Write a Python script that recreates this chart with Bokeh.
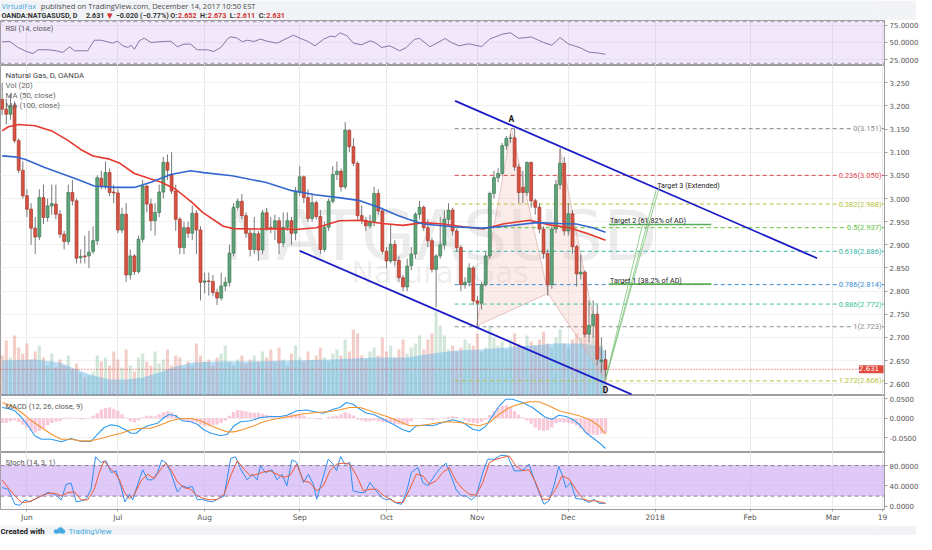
from bokeh.plotting import figure
from bokeh.layouts import column
from bokeh.models import (ColumnDataSource, Range1d, FixedTicker, PrintfTickFormatter,
                          Label, Span, BoxAnnotation, Grid)
from bokeh.embed import file_html
from bokeh.resources import INLINE

# ---------------- data ----------------
bar_index = list(range(147))   # daily bars, 24 May 2017 .. 14 Dec 2017

opens = [3.214,3.193,3.182,3.202,3.125,3.061,3.006,2.977,2.936,2.917,
         3.002,2.959,2.984,2.988,2.966,2.923,2.907,3.013,2.995,2.872,
         2.876,2.876,2.886,2.909,3.044,3.027,3.056,3.014,3.012,2.932,
         2.966,2.835,2.876,2.842,2.912,3.027,2.988,2.952,2.970,3.014,
         3.078,3.051,3.016,2.955,2.894,2.937,2.925,2.968,2.932,2.819,
         2.822,2.821,2.797,2.785,2.811,2.819,2.882,2.981,2.994,2.963,
         2.925,2.890,2.924,2.889,2.969,2.937,2.936,2.952,2.904,2.938,
         2.952,2.925,3.013,3.047,3.002,2.957,2.991,2.961,2.890,2.938,
         2.994,3.052,3.059,3.025,3.147,3.112,3.076,2.963,2.953,2.941,
         2.950,3.011,2.973,2.886,2.865,2.901,2.866,2.829,2.809,2.855,
         2.880,2.966,2.981,2.937,2.909,2.847,2.876,2.900,2.955,2.975,
         2.930,2.894,2.814,2.819,2.850,2.779,2.774,2.814,2.876,3.011,
         3.045,3.054,3.114,3.130,3.131,3.068,3.024,3.013,3.078,2.995,
         2.981,2.934,2.881,2.814,2.934,3.030,3.076,2.930,2.967,2.896,
         2.837,2.841,2.707,2.726,2.750,2.648,2.652]
closes = [3.193,3.182,3.200,3.125,3.061,3.006,2.977,2.936,2.917,3.002,
          2.959,2.984,2.989,2.966,2.923,2.907,3.013,2.995,2.871,2.875,
          2.874,2.884,2.909,3.045,3.027,3.056,3.013,3.012,2.932,2.966,
          2.835,2.876,2.842,2.912,3.027,2.988,2.952,2.970,3.014,3.078,
          3.061,3.016,2.955,2.894,2.937,2.925,2.968,2.932,2.819,2.822,
          2.821,2.797,2.785,2.811,2.819,2.882,2.981,2.994,2.963,2.925,
          2.890,2.924,2.889,2.969,2.937,2.936,2.952,2.904,2.938,2.952,
          2.925,3.013,3.047,3.002,2.957,2.991,2.961,2.890,2.938,2.994,
          3.052,3.059,3.025,3.148,3.112,3.076,2.963,2.953,2.941,2.950,
          3.011,2.973,2.886,2.865,2.901,2.866,2.829,2.809,2.854,2.880,
          2.966,2.981,2.937,2.909,2.847,2.876,2.900,2.955,2.975,2.930,
          2.894,2.814,2.819,2.850,2.779,2.774,2.814,2.876,3.011,3.045,
          3.054,3.114,3.130,3.131,3.068,3.013,3.013,3.078,2.995,2.981,
          2.934,2.881,2.814,2.934,3.030,3.076,2.930,2.967,2.896,2.837,
          2.841,2.707,2.726,2.750,2.653,2.651,2.631]
highs = [3.250,3.215,3.225,3.210,3.130,3.080,3.020,2.990,2.960,3.020,
         3.030,3.000,3.030,3.030,2.975,2.930,3.030,3.040,3.000,2.890,
         2.920,2.930,2.940,3.050,3.060,3.080,3.065,3.030,3.020,2.980,
         2.990,2.890,2.880,2.920,3.040,3.030,3.000,2.990,3.030,3.090,
         3.095,3.100,3.030,2.960,2.950,2.950,2.985,2.975,2.940,2.840,
         2.840,2.835,2.805,2.840,2.830,2.900,2.990,3.000,3.010,2.970,
         2.935,2.960,2.930,2.975,2.980,2.960,2.965,2.960,2.970,2.970,
         2.960,3.025,3.070,3.050,3.020,3.010,2.995,2.975,2.950,3.000,
         3.070,3.080,3.065,3.165,3.150,3.130,3.080,2.985,2.960,2.965,
         3.025,3.020,2.980,2.895,2.945,2.910,2.875,2.835,2.870,2.895,
         2.970,2.995,2.985,2.955,2.915,2.880,2.960,2.975,2.990,2.980,
         2.935,2.900,2.830,2.860,2.855,2.790,2.820,2.885,3.015,3.060,
         3.065,3.120,3.135,3.140,3.151,3.075,3.060,3.080,3.080,3.000,
         2.990,2.940,2.890,2.940,3.040,3.110,3.090,2.990,2.975,2.900,
         2.880,2.845,2.780,2.780,2.770,2.700,2.673]
lows = [3.180,3.160,3.170,3.120,3.055,3.000,2.960,2.900,2.880,2.910,
        2.945,2.950,2.965,2.955,2.915,2.890,2.900,2.985,2.860,2.860,
        2.860,2.850,2.880,2.900,3.020,3.020,3.005,2.990,2.925,2.925,
        2.820,2.825,2.835,2.838,2.905,2.970,2.930,2.920,2.960,3.000,
        3.040,3.010,2.930,2.880,2.880,2.915,2.910,2.880,2.780,2.795,
        2.790,2.790,2.770,2.780,2.800,2.810,2.875,2.975,2.955,2.915,
        2.875,2.880,2.865,2.880,2.930,2.925,2.910,2.880,2.895,2.930,
        2.900,2.910,3.005,2.990,2.950,2.950,2.955,2.880,2.885,2.930,
        2.990,3.040,3.015,3.020,3.100,3.070,2.955,2.945,2.930,2.935,
        2.940,2.965,2.880,2.850,2.860,2.855,2.820,2.800,2.800,2.845,
        2.870,2.955,2.930,2.895,2.840,2.765,2.870,2.890,2.945,2.920,
        2.885,2.800,2.805,2.810,2.770,2.723,2.760,2.810,2.870,3.000,
        3.035,3.050,3.105,3.120,3.060,2.990,2.990,3.005,2.980,2.965,
        2.925,2.870,2.790,2.805,2.925,3.020,2.920,2.920,2.880,2.810,
        2.825,2.700,2.690,2.700,2.640,2.625,2.611]
volume = [40,55,38,60,48,42,52,36,44,50,
          38,30,42,28,36,30,40,26,32,22,
          18,20,24,40,34,38,30,44,36,28,
          46,30,24,38,42,34,30,44,32,36,
          46,30,40,38,28,34,30,52,40,34,
          36,30,38,42,50,34,30,36,40,32,
          36,40,34,44,38,46,34,48,36,30,
          42,50,38,34,44,36,40,48,38,34,
          42,46,40,56,44,66,62,40,36,44,
          48,40,58,44,50,38,46,56,42,48,
          52,60,46,56,62,84,70,60,46,50,
          44,48,56,52,50,62,44,48,70,58,
          50,54,46,56,62,52,48,60,54,50,
          56,64,52,48,58,66,52,48,56,62,
          58,62,54,60,56,50,30]

# quote line of the header
quote_change = -0.020
quote_change_pct = -0.77

volma_x = [0, 8, 14, 18, 22, 26, 30, 34, 38, 42, 46, 52, 60, 70, 80, 90, 98, 104, 110, 116, 122, 128, 134, 140, 144, 146]
volma_y = [35, 36, 33, 26, 20, 16, 16, 18, 23, 29, 33, 34, 34, 35, 36, 38, 38, 42, 45, 46, 48, 50, 52, 52, 50, 44]

ma50_x = [0, 1.5, 4, 8, 12, 16, 19, 22, 26, 28.5, 32, 36, 38.5, 42, 46, 48.5, 53.5, 56, 62.5, 67, 71, 76,
          81.6, 86.4, 92, 97, 101.9, 106.7, 111.6, 116.4, 121.2, 127.6, 132.5, 137.3, 142.1, 146]
ma50_y = [3.146, 3.155, 3.160, 3.157, 3.146, 3.125, 3.106, 3.092, 3.085, 3.076, 3.054, 3.042, 3.035, 3.020,
          2.991, 2.970, 2.940, 2.935, 2.934, 2.935, 2.933, 2.937, 2.952, 2.953, 2.946, 2.942, 2.948, 2.945,
          2.939, 2.934, 2.945, 2.953, 2.943, 2.937, 2.923, 2.910]
ma100_x = [0, 3, 5.5, 10.3, 14.3, 17.5, 22.3, 27.2, 32, 36, 40.8, 45.6, 48.8, 55.6, 63.7, 70.1, 75.7, 81.4,
           86.2, 91.1, 95.9, 98.3, 101.9, 109.1, 116.4, 122.8, 129.2, 134.8, 138.9, 142.9, 146]
ma100_y = [3.092, 3.090, 3.085, 3.067, 3.054, 3.044, 3.027, 3.024, 3.024, 3.035, 3.052, 3.060, 3.056, 3.049,
           3.035, 3.017, 3.008, 3.002, 2.996, 2.981, 2.963, 2.955, 2.945, 2.939, 2.936, 2.941, 2.948, 2.946,
           2.945, 2.937, 2.927]

rsi_x = [0, 1.85, 3.86, 5.87, 7.5, 8.7, 11.1, 13.1, 14.7, 16.3, 17.5, 20.7, 22.3, 23.9, 25.5, 26.7, 27.9,
         29.2, 30.4, 31.2, 32.0, 33.2, 34.4, 36.0, 38.0, 40.8, 42.4, 44.0, 45.6, 47.2, 49.6, 51.2, 52.9,
         54.5, 55.3, 56.9, 58.1, 59.3, 60.9, 62.5, 64.1, 66.5, 68.5, 70.5, 72.1, 73.7, 75.7, 77.8, 79.4,
         80.6, 81.8, 83.4, 85.0, 87.0, 89.0, 90.2, 91.8, 93.8, 96.2, 97.8, 99.8, 101.0, 103.5, 105.5, 107.1,
         108.7, 110.5, 113, 116, 118, 121, 123, 125, 128, 131, 133, 135, 137, 140, 142, 144, 146]
rsi_y = [51.0, 51.4, 42.8, 37.0, 34.1, 39.5, 39.5, 38.0, 35.6, 43.8, 38.0, 38.0, 53.3, 53.3, 51.0, 49.0,
         51.9, 45.2, 42.8, 46.1, 40.3, 52.4, 56.2, 50.0, 51.0, 51.9, 43.8, 47.6, 47.6, 39.5, 39.5, 37.0,
         42.8, 54.8, 58.2, 56.2, 51.0, 53.3, 51.4, 54.8, 51.9, 49.0, 54.8, 60.6, 55.8, 52.4, 45.2, 54.8,
         59.1, 58.2, 64.0, 59.7, 49.0, 46.6, 52.4, 50.0, 42.8, 45.2, 38.0, 42.8, 54.8, 55.8, 43.8, 50.0,
         55.8, 50.0, 45.2, 48.0, 44.0, 55.0, 62.0, 64.0, 56.0, 58.0, 50.0, 46.0, 57.0, 48.0, 42.0, 36.0,
         35.0, 33.0]

macd_x = [0, 1.4, 3.1, 4.7, 6.3, 7.9, 9.5, 11.9, 14.3, 16.7, 19.1, 21.5, 23.1, 24.7, 26.3, 27.9, 29.6,
          31.2, 32.4, 33.6, 35.2, 37.6, 39.2, 40.4, 42.0, 43.6, 45.6, 47.2, 48.8, 50.5, 52.9, 54.5, 56.1,
          57.7, 60.1, 62.5, 64.9, 67.3, 68.9, 71.3, 73.7, 75.3, 77.7, 80.1, 81.7, 83.3, 84.9, 86.6, 88.2,
          89.8, 92.2, 94.6, 97.0, 98.6, 100.2, 101.8, 104.2, 106.6, 109.0, 111.5, 113.9, 115.5, 117.1,
          118.7, 120.3, 121.9, 123.5, 125.9, 128.3, 129.9, 131.5, 133.1, 134.7, 136.4, 138.0, 139.6,
          141.2, 142.8, 144.4, 146.0]
macd_y = [0.0274, 0.0249, 0.0190, 0.0018, -0.0195, -0.0451, -0.0538, -0.0538, -0.0605, -0.0521,
          -0.0597, -0.0597, -0.0410, -0.0238, -0.0170, -0.0195, -0.0282, -0.0385, -0.0385, -0.0282,
          -0.0195, -0.0128, 0.0018, 0.0095, 0.0062, -0.0067, -0.0092, -0.0154, -0.0297, -0.0385,
          -0.0451, -0.0410, -0.0195, -0.0092, -0.0067, 0.0018, 0.0044, 0.0044, 0.0077, 0.0190,
          0.0210, 0.0170, 0.0128, 0.0231, 0.0274, 0.0403, 0.0359, 0.0231, 0.0128, 0.0103,
          -0.0026, -0.0154, -0.0297, -0.0350, -0.0195, -0.0179, -0.0195, -0.0110, -0.0041, -0.0110,
          -0.0282, -0.0323, -0.0195, 0.0062, 0.0318, 0.0487, 0.0487, 0.0403, 0.0274, 0.0146,
          0.0018, -0.0026, 0.0077, 0.0044, -0.0026, -0.0154, -0.0367, -0.0495, -0.0623, -0.0777]
signal_x = [0, 2.3, 4.7, 7.1, 9.5, 11.9, 14.3, 16.7, 19.1, 21.5, 23.9, 26.3, 28.8, 31.2, 33.6, 36.0, 38.4,
            40.8, 43.2, 45.6, 48.0, 50.5, 52.9, 54.5, 56.1, 58.5, 60.9, 63.3, 65.7, 68.1, 70.5, 72.9, 76.1,
            79.3, 81.7, 84.1, 86.6, 89.0, 91.4, 93.8, 96.2, 98.6, 101.0, 103.4, 105.8, 108.2, 110.6, 113.1,
            115.5, 117.9, 120.3, 122.7, 125.1, 127.5, 129.9, 132.3, 134.7, 137.2, 139.6, 142.0, 144.4, 146.0]
signal_y = [0.0403, 0.0318, 0.0146, -0.0067, -0.0238, -0.0410, -0.0538, -0.0538, -0.0580, -0.0580,
            -0.0521, -0.0451, -0.0385, -0.0297, -0.0256, -0.0256, -0.0170, -0.0067, -0.0008, -0.0008,
            -0.0067, -0.0195, -0.0297, -0.0350, -0.0350, -0.0282, -0.0195, -0.0092, -0.0026, 0.0018,
            0.0062, 0.0115, 0.0146, 0.0172, 0.0215, 0.0274, 0.0274, 0.0190, 0.0103, 0.0018,
            -0.0092, -0.0195, -0.0195, -0.0154, -0.0110, -0.0092, -0.0110, -0.0154, -0.0195, -0.0110,
            0.0103, 0.0274, 0.0359, 0.0420, 0.0420, 0.0318, 0.0190, 0.0128, 0.0062, -0.0026,
            -0.0195, -0.0410]
macd_hist = [-0.012,-0.012,-0.008,-0.005,-0.010,-0.017,-0.024,-0.032,-0.037,-0.033,
             -0.026,-0.018,-0.012,-0.009,-0.007,-0.002,0.002,0.001,-0.002,-0.003,
             -0.002,0.001,0.006,0.013,0.022,0.026,0.028,0.024,0.019,0.010,
             0.002,-0.008,-0.011,-0.005,0.002,0.006,0.006,0.005,0.010,0.015,
             0.018,0.015,0.009,0.001,-0.006,-0.008,-0.009,-0.011,-0.017,-0.020,
             -0.019,-0.018,-0.016,-0.012,-0.006,0.006,0.016,0.021,0.020,0.017,
             0.015,0.014,0.014,0.011,0.008,0.006,0.004,0.003,0.005,0.007,
             0.010,0.011,0.009,0.007,0.002,-0.001,-0.002,-0.003,0.000,0.004,
             0.005,0.006,0.010,0.015,0.012,0.007,-0.003,-0.006,-0.009,-0.008,
             -0.006,-0.008,-0.010,-0.011,-0.013,-0.015,-0.016,-0.017,-0.016,-0.008,
             -0.001,0.000,-0.002,-0.004,-0.005,-0.003,-0.001,0.002,0.004,0.005,
             0.003,0.000,-0.006,-0.010,-0.012,-0.013,-0.009,-0.004,0.008,0.018,
             0.026,0.032,0.034,0.028,0.018,0.008,0.002,-0.006,-0.014,-0.024,
             -0.030,-0.033,-0.031,-0.024,-0.013,-0.010,-0.011,-0.012,-0.014,-0.019,
             -0.026,-0.036,-0.041,-0.042,-0.043,-0.040,-0.037]

stoch_k_x = [0, 1.4, 3.1, 4.3, 5.5, 6.7, 7.9, 9.5, 11.1, 12.7, 14.3, 15.5, 16.7, 17.9, 19.1, 20.3, 21.5,
             22.6, 23.9, 25.1, 26.4, 27.6, 28.8, 29.7, 30.8, 31.6, 32.8, 34.0, 35.2, 36.4, 37.6, 38.6, 39.6,
             40.8, 42.4, 43.6, 44.8, 46.0, 47.2, 48.4, 49.6, 50.9, 52.1, 53.7, 55.3, 56.5, 57.7, 59.3, 60.5,
             61.7, 62.5, 63.7, 65.3, 66.5, 67.7, 68.9, 70.1, 71.3,
             72.9, 74.1, 75.3, 76.1, 77.3, 78.9, 80.1, 80.9, 81.9, 82.9, 84.1, 84.9, 86.6, 87.8, 89.0, 90.2,
             91.8, 93.0, 93.9, 95.0, 96.6, 97.8, 99.0, 100.6, 101.8, 103.0, 104.6, 105.8, 107.4, 108.6,
             109.8, 111.1, 112.3, 113.5, 114.7, 116.3, 117.5, 119.1, 120.7, 122.3, 123.9, 125.5, 126.3,
             127.5, 128.7, 129.9, 131.1, 132.3, 133.5, 134.7, 135.6, 136.4, 137.6, 138.8, 140.4, 142.0,
             143.2, 144.4, 146.0]
stoch_k_y = [36.8, 33.5, 3.9, 2.0, 12.6, 8.7, 13.8, 20.5, 27.0, 23.6, 12.6, 43.3, 45.3, 8.7, 10.6, 13.8,
             33.5, 97.2, 86.0, 89.4, 66.3, 69.7, 36.8, 8.7, 23.6, 12.6, 43.3, 71.7, 52.0, 52.0, 66.3, 90.6,
             86.0, 66.3, 28.3, 40.1, 36.8, 38.8, 12.6, 13.8, 10.6, 8.7, 13.8, 20.5, 93.9, 97.2, 73.0, 52.0,
             63.0, 52.0, 79.5, 66.3, 71.7, 52.0, 63.0, 40.1, 91.3, 86.0,
             46.7, 63.0, 43.3, 13.8, 46.7, 92.5, 82.7, 69.7, 97.8, 82.7, 86.0, 30.3, 27.0, 27.0, 46.7,
             33.5, 17.1, 12.6, 15.2, 7.4, 3.9, 27.0, 66.3, 76.2, 46.7, 40.1, 59.9, 73.0, 84.8, 59.9,
             33.5, 20.5, 20.5, 12.6, 20.5, 66.3, 92.5, 92.5, 100.4, 99.0, 69.7, 69.7, 73.0, 82.7, 53.3,
             27.0, 3.9, 10.6, 40.1, 78.1, 59.9, 36.8, 46.7, 15.2, 13.8, 7.4, 13.8, 5.9, 5.9]
stoch_d_x = [0, 1.4, 3.1, 4.7, 6.3, 7.9, 9.5, 11.1, 12.7, 14.3, 15.9, 17.5, 19.1, 20.7, 22.3, 23.5, 24.7,
             25.9, 27.2, 28.4, 29.6, 30.8, 32.0, 33.6, 35.2, 36.8, 38.4, 39.6, 40.8, 42.4, 44.0, 45.6, 47.2,
             48.8, 50.5, 52.1, 53.7, 55.3, 56.9, 58.5, 60.1, 61.7, 63.3, 64.9, 66.5, 68.1, 69.7, 71.3,
             72.9, 74.5, 76.1, 77.7, 79.3, 80.9, 82.5, 84.1, 85.8, 87.4, 89.0, 90.6, 92.2, 93.8, 95.4, 97.0,
             98.6, 100.2, 101.8, 103.4, 105.0, 106.6, 108.2, 109.8, 111.5, 113.1, 114.7, 116.3, 117.9,
             119.5, 121.1, 122.7, 124.3, 125.9, 127.5, 129.1, 130.7, 132.3, 133.9, 135.5, 137.2, 138.8,
             140.4, 142.0, 143.6, 145.2, 146.0]
stoch_d_y = [52.0, 36.8, 20.5, 7.4, 8.7, 13.8, 20.5, 25.6, 25.6, 20.5, 27.0, 28.3, 12.6, 12.6, 33.5, 66.3,
             89.4, 76.2, 66.3, 52.0, 27.0, 15.2, 23.6, 50.0, 63.0, 54.4, 73.0, 84.8, 73.0, 48.0, 36.8, 33.5,
             20.5, 15.2, 12.6, 13.8, 23.6, 59.9, 89.4, 73.0, 59.9, 63.0, 67.6, 69.7, 63.0, 56.7, 61.1, 82.8,
             50.0, 46.7, 30.3, 40.1, 69.7, 82.7, 84.8, 82.7, 59.9, 30.3, 33.5, 33.5, 21.8, 13.8, 7.4, 7.4,
             33.5, 63.0, 59.9, 43.3, 50.0, 66.3, 76.2, 50.0, 33.5, 23.6, 21.8, 46.7, 86.0, 92.5, 95.8, 99.0,
             79.5, 69.7, 71.7, 46.7, 13.8, 13.8, 33.5, 59.9, 53.3, 33.5, 15.2, 10.6, 10.6, 7.4, 5.9]

# Fibonacci retracement levels (drawn from bar 109.5)
fib_ratios = ["0", "0.236", "0.382", "0.5", "0.618", "0.786", "0.886", "1", "1.272"]
fib_prices = [3.151, 3.050, 2.988, 2.937, 2.886, 2.814, 2.772, 2.723, 2.606]
fib_colors = ["#8e8e8e", "#d9464d", "#b6c23c", "#64c23c", "#34b5a8", "#3d8ed2", "#41c49b", "#8e8e8e", "#b6c23c"]
fib_start = 109.5

# Channel lines (bar, price)
upper_x = [109.6, 197.2]
upper_y = [3.211, 2.871]
lower_x = [72.0, 152.3]
lower_y = [2.887, 2.577]

# Harmonic pattern points X, A, B, C, D
pat_x = [114.8, 123.2, 132.1, 135.0, 146.0]
pat_y = [2.725, 3.152, 2.795, 3.106, 2.609]

# Targets
target_names = ["Target 1 (38.2% of AD)", "Target 2 (61.82% of AD)"]
target_prices = [2.815, 2.944]
target_x = [146.8, 171.6]
target3_x, target3_y = 158.5, 3.028
fan_x = [159.0, 158.2, 154.9]
fan_y = [3.024, 3.017, 2.942]

month_ticks = [6, 28, 49, 72, 93, 115, 137, 158, 181, 201, 213]
month_labels = ["Jun", "Jul", "Aug", "Sep", "Oct", "Nov", "Dec", "2018", "Feb", "Mar", "19"]

price_ticks = [2.60, 2.65, 2.70, 2.75, 2.80, 2.85, 2.90, 2.95, 3.00, 3.05, 3.10, 3.15, 3.20, 3.25]

# ---------------- layout constants ----------------
X_RANGE = (-0.4, 213.5)
FRAME_W = 884
AX_W = 32
UP, DN = "#5fa47a", "#d75442"
UP_L, DN_L = "#3b7a53", "#a8382c"
HDR_BG = "#f1f3f6"


def add_label(p, x, y, text, size="8px", color="#555555", font="Roboto", align="left",
              baseline="middle", style="normal", **kw):
    p.add_layout(Label(x=x, y=y, text=text, text_font_size=size, text_color=color,
                       text_font=font, text_align=align, text_baseline=baseline,
                       text_font_style=style, **kw))


def make_panel(h, yr, yticks, fmt, bottom_axis=False):
    p = figure(frame_width=FRAME_W, frame_height=h,
               x_range=Range1d(*X_RANGE), y_range=Range1d(*yr),
               output_backend="svg", toolbar_location=None,
               x_axis_location="below" if bottom_axis else None,
               y_axis_location="right",
               min_border_left=0, min_border_right=AX_W, min_border_top=0, min_border_bottom=0)
    p.background_fill_color = "white"
    p.border_fill_color = "white"
    p.outline_line_color = "#9e9e9e"
    p.outline_line_width = 1
    for g in p.grid:
        g.visible = False
    ax = p.yaxis[0]
    ax.ticker = FixedTicker(ticks=yticks)
    ax.formatter = PrintfTickFormatter(format=fmt)
    ax.major_label_text_font_size = "7px"
    ax.major_label_text_color = "#555555"
    ax.major_label_text_font = "DejaVu Sans"
    ax.axis_line_color = "#9e9e9e"
    ax.major_tick_line_color = "#9e9e9e"
    ax.major_tick_out = 3
    ax.major_tick_in = 0
    ax.minor_tick_line_color = None
    ax.major_label_standoff = 2
    p.add_layout(Grid(dimension=0, ticker=FixedTicker(ticks=month_ticks),
                      grid_line_color="#e9e9e9", grid_line_width=1))
    p.add_layout(Grid(dimension=1, ticker=FixedTicker(ticks=yticks),
                      grid_line_color="#f1f1f1", grid_line_width=1))
    return p


def y_at(yr, h, d):
    """data y that lies d pixels below the top of a frame of height h"""
    return yr[1] - d * (yr[1] - yr[0]) / h


# ---------------- header ----------------
hdr = figure(width=916, height=20, x_range=Range1d(0, 916), y_range=Range1d(0, 20),
             output_backend="svg", toolbar_location=None, x_axis_location=None,
             y_axis_location=None, min_border=0)
hdr.outline_line_color = None
hdr.background_fill_color = HDR_BG
hdr.border_fill_color = HDR_BG
for g in hdr.grid:
    g.visible = False
add_label(hdr, 1, 15, "VirtualFax", size="7.5px", color="#4aa8e0", font="Open Sans")
add_label(hdr, 42, 15, "published on TradingView.com, December 14, 2017 10:50 EST",
          size="7.5px", color="#4a4a4a", font="Open Sans")
RED = "#d0312d"
last_o, last_h, last_l, last_c = opens[-1], highs[-1], lows[-1], closes[-1]
runs = [("OANDA:NATGASUSD, D", 1, "#333333"),
        (f"{last_c:.3f}", 89, "#333333"),
        ("\u25BC", 111, RED),
        (f"\u2212{abs(quote_change):.3f} (\u2212{abs(quote_change_pct):.2f}%)", 120, "#333333"),
        ("O:", 177, "#333333"), (f"{last_o:.3f}", 185, RED),
        ("H:", 208, "#333333"), (f"{last_h:.3f}", 216, RED),
        ("L:", 239, "#333333"), (f"{last_l:.3f}", 246, RED),
        ("C:", 269, "#333333"), (f"{last_c:.3f}", 277, RED)]
for txt, xx, col in runs:
    add_label(hdr, xx, 5, txt, size="7.2px", color=col,
              font="DejaVu Sans" if txt == "\u25BC" else "Roboto", style="bold")

# ---------------- RSI ----------------
RSI_H, RSI_R = 45, (16.8, 81.7)
rsi = make_panel(RSI_H, RSI_R, [25, 50, 75], "%.4f")
rsi.add_layout(BoxAnnotation(bottom=20, top=80, fill_color="#c9a5f5", fill_alpha=0.25,
                             line_color=None, level="underlay"))
for lvl in (20, 80):
    rsi.add_layout(Span(location=lvl, dimension="width", line_color="#a595b3",
                        line_dash="4 3", line_width=1))
rsi.line(rsi_x, rsi_y, line_color="#8d73a3", line_width=1)
add_label(rsi, X_RANGE[0], y_at(RSI_R, RSI_H, 8), "RSI (14, close)", x_offset=5, size="7.5px")

# ---------------- main price panel ----------------
MAIN_H, MAIN_R = 330, (2.5745, 3.2873)
main = make_panel(MAIN_H, MAIN_R, price_ticks, "%.3f")
main.extra_y_ranges = {"vol": Range1d(0, 330)}

main.add_layout(Label(x=106, y=2.920, text="NATGASUSD", text_font_size="70px", text_font="DejaVu Sans",
                      text_color="#000000", text_alpha=0.075, text_align="center",
                      text_baseline="alphabetic", level="underlay"))
main.add_layout(Label(x=106, y=2.840, text="Natural Gas", text_font_size="30px", text_font="DejaVu Sans",
                      text_color="#000000", text_alpha=0.075, text_align="center",
                      text_baseline="alphabetic", level="underlay"))

src = ColumnDataSource(dict(
    x=bar_index, o=opens, h=highs, l=lows, c=closes,
    top=[max(o, c) for o, c in zip(opens, closes)],
    bottom=[min(o, c) for o, c in zip(opens, closes)],
    fill=[UP if c >= o else DN for o, c in zip(opens, closes)],
    line=[UP_L if c >= o else DN_L for o, c in zip(opens, closes)],
    vol=volume,
))

main.vbar(x="x", width=0.75, top="vol", bottom=0, fill_color="fill", fill_alpha=0.28,
          line_color=None, source=src, y_range_name="vol")
main.varea(x=volma_x, y1=0, y2=volma_y, fill_color="#58ade6", fill_alpha=0.42, y_range_name="vol")

# harmonic pattern
main.patches([[pat_x[0], pat_x[1], pat_x[2]], [pat_x[2], pat_x[3], pat_x[4]]],
             [[pat_y[0], pat_y[1], pat_y[2]], [pat_y[2], pat_y[3], pat_y[4]]],
             fill_color="#f2bfbb", fill_alpha=0.3, line_color="#d9a7a3", line_alpha=0.8, line_width=0.8)

# fibonacci levels
main.segment(x0=[fib_start] * len(fib_prices), y0=fib_prices, x1=[X_RANGE[1]] * len(fib_prices),
             y1=fib_prices, line_color=fib_colors, line_dash="4 3", line_width=1)
for r, pr, col in zip(fib_ratios, fib_prices, fib_colors):
    add_label(main, X_RANGE[1], pr, f"{r}({pr:.3f})", size="7.5px", color=col, align="right",
              x_offset=-3, background_fill_color="white", background_fill_alpha=0.9)

# candles
main.segment(x0="x", y0="h", x1="x", y1="l", line_color="#7a7a7c", line_width=1, source=src)
main.vbar(x="x", width=0.7, top="top", bottom="bottom", fill_color="fill", line_color="line",
          line_width=0.7, source=src)

# moving averages
main.line(ma50_x, ma50_y, line_color="#e5392f", line_width=1.6)
main.line(ma100_x, ma100_y, line_color="#3467cf", line_width=1.6)

# channel
main.line(upper_x, upper_y, line_color="#1c1cc4", line_width=1.8)
main.line(lower_x, lower_y, line_color="#1c1cc4", line_width=1.8)

# targets
for fx, fy in zip(fan_x, fan_y):
    main.line([pat_x[4], fx], [pat_y[4], fy], line_color="#7cc47a", line_width=0.8)
main.segment(x0=[target_x[0]] * 2, y0=target_prices, x1=[target_x[1]] * 2, y1=target_prices,
             line_color="#5aab55", line_width=1.6)
ppx = (MAIN_R[1] - MAIN_R[0]) / MAIN_H
for nm, tp in zip(target_names, target_prices):
    add_label(main, target_x[0] + 0.3, tp + 4 * ppx, nm, size="7.2px", color="#222222")
add_label(main, target3_x, target3_y, "Target 3 (Extended)", size="7.2px", color="#222222")
add_label(main, pat_x[1], pat_y[1] + 9 * ppx, "A", size="8.5px", color="#111111", align="center",
          style="bold")
add_label(main, pat_x[4], pat_y[4] - 10 * ppx, "D", size="8.5px", color="#111111", align="center",
          style="bold")

# last price line and tag (tag kept inside the frame, against its right edge)
main.add_layout(Span(location=closes[-1], dimension="width", line_color="#e0493d",
                     line_dash="1 2", line_width=1))
main.add_layout(Label(x=X_RANGE[1], y=closes[-1], text=f" {closes[-1]:.3f} ", x_offset=-1,
                      text_align="right", text_font_size="7px", text_font="DejaVu Sans",
                      text_color="white", text_baseline="middle",
                      background_fill_color="#e0493d", level="overlay"))

titles = [("Natural Gas, D, OANDA", 10, "#444444"), ("Vol (20)", 20, "#666666"),
          ("MA (50, close)", 30, "#666666"), ("MA (100, close)", 40, "#666666")]
for t, d, col in titles:
    add_label(main, X_RANGE[0], y_at(MAIN_R, MAIN_H, d), t, x_offset=5, size="7.8px", color=col)

# ---------------- MACD ----------------
MACD_H, MACD_R = 57, (-0.0879, 0.0582)
macd = make_panel(MACD_H, MACD_R, [-0.05, 0.0, 0.05], "%.4f")
macd.vbar(x=bar_index, width=0.8, top=macd_hist, bottom=0, fill_color="#f5a3c0", fill_alpha=0.6,
          line_color=None)
macd.line(macd_x, macd_y, line_color="#2e9cf0", line_width=1.1)
macd.line(signal_x, signal_y, line_color="#f5932f", line_width=1.1)
add_label(macd, X_RANGE[0], y_at(MACD_R, MACD_H, 11), "MACD (12, 26, close, 9)", x_offset=5,
          size="7.5px")

# ---------------- Stoch ----------------
ST_H, ST_R = 57, (-6.3, 105.7)
st = make_panel(ST_H, ST_R, [0, 40, 80], "%.4f", bottom_axis=True)
st.add_layout(BoxAnnotation(bottom=20, top=80, fill_color="#c9a5f5", fill_alpha=0.6,
                            line_color=None, level="underlay"))
for lvl in (20, 80):
    st.add_layout(Span(location=lvl, dimension="width", line_color="#8d7a9e",
                       line_dash="4 3", line_width=1))
st.line(stoch_k_x, stoch_k_y, line_color="#2e8ff0", line_width=1)
st.line(stoch_d_x, stoch_d_y, line_color="#ef5a2f", line_width=1)
add_label(st, X_RANGE[0], y_at(ST_R, ST_H, 10), "Stoch (14, 3, 1)", x_offset=5, size="7.5px")
xa = st.xaxis[0]
xa.ticker = FixedTicker(ticks=month_ticks)
xa.major_label_overrides = {t: l for t, l in zip(month_ticks, month_labels)}
xa.major_label_text_font_size = "7.5px"
xa.major_label_text_font = "DejaVu Sans"
xa.major_label_text_color = "#555555"
xa.axis_line_color = "#9e9e9e"
xa.major_tick_line_color = "#9e9e9e"
xa.major_tick_out = 2
xa.major_tick_in = 0
xa.minor_tick_line_color = None
xa.major_label_standoff = 1

# ---------------- footer ----------------
ftr = figure(width=916, height=11, x_range=Range1d(0, 916), y_range=Range1d(0, 11),
             output_backend="svg", toolbar_location=None, x_axis_location=None,
             y_axis_location=None, min_border=0)
ftr.outline_line_color = None
ftr.background_fill_color = HDR_BG
ftr.border_fill_color = HDR_BG
for g in ftr.grid:
    g.visible = False
add_label(ftr, 0, 5.5, "Created with", size="7.8px", color="#222222", font="Roboto", style="bold")
ftr.ellipse(x=[58.5, 62.5, 65.0], y=[5.0, 6.3, 5.0], width=[6, 6, 5], height=[4.5, 6, 4.5],
            fill_color="#47a9e0", line_color=None)
add_label(ftr, 71, 5.5, "TradingView", size="7.8px", color="#47a9e0", font="Roboto")

layout = column(hdr, rsi, main, macd, st, ftr, spacing=0)
open("out.html", "w").write(file_html(layout, INLINE))
